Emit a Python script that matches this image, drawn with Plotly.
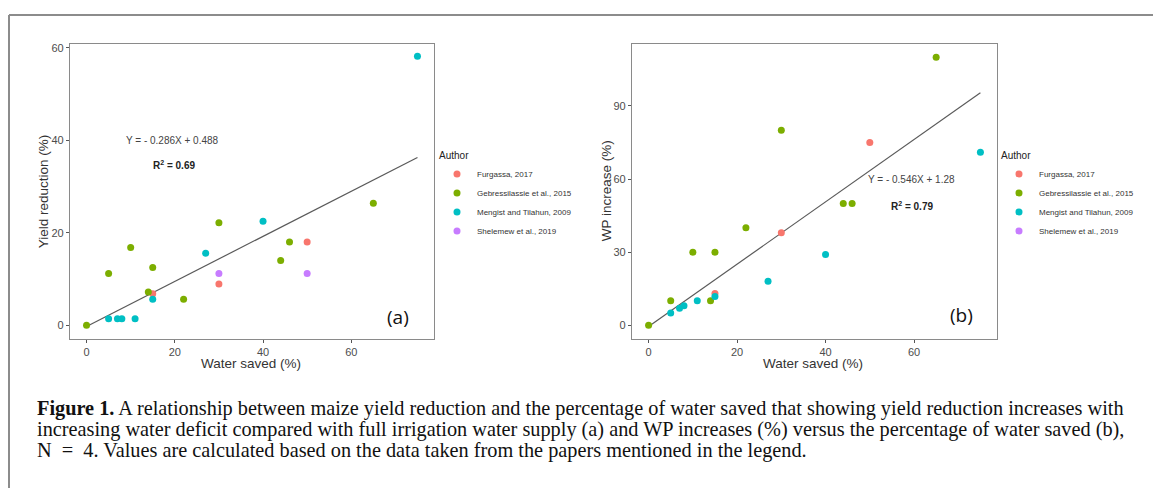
import plotly.graph_objects as go

W, H = 1153, 488

authors = ["Furgassa, 2017", "Gebressilassie et al., 2015", "Mengist and Tilahun, 2009", "Shelemew et al., 2019"]
colors = ["#F8766D", "#7CAE00", "#00BFC4", "#C77CFF"]

# Panel (a): water saved (%) vs yield reduction (%)
a_furgassa_x = [15, 30, 50]
a_furgassa_y = [6.8, 8.9, 18.0]
a_gebre_x = [0, 5, 10, 14, 15, 22, 30, 44, 46, 65]
a_gebre_y = [0, 11.2, 16.8, 7.2, 12.5, 5.6, 22.2, 14.0, 18.0, 26.4]
a_mengist_x = [5, 7, 8, 11, 15, 27, 40, 75]
a_mengist_y = [1.4, 1.4, 1.4, 1.4, 5.6, 15.6, 22.5, 58.2]
a_shelemew_x = [30, 50]
a_shelemew_y = [11.2, 11.2]

# Panel (b): water saved (%) vs WP increase (%)
b_furgassa_x = [15, 30, 50]
b_furgassa_y = [13.0, 38.0, 75.0]
b_gebre_x = [0, 5, 10, 14, 15, 22, 30, 44, 46, 65]
b_gebre_y = [0, 10, 30, 10, 30, 40, 80, 50, 50, 110]
b_mengist_x = [5, 7, 8, 11, 15, 27, 40, 75]
b_mengist_y = [5.0, 7.0, 8.0, 10.0, 11.8, 18.0, 29.0, 71.0]
b_shelemew_x = []
b_shelemew_y = []

# fitted lines (slope, intercept)
fit_a = (0.488, -0.286)
fit_b = (1.28, -0.546)
fit_x_range = [0, 75]

x_ticks = [0, 20, 40, 60]
a_y_ticks = [0, 20, 40, 60]
b_y_ticks = [0, 30, 60, 90]

eq_a = "Y = - 0.286X + 0.488"
r2_a = "<b>R<sup>2</sup> = 0.69</b>"
eq_b = "Y = - 0.546X + 1.28"
r2_b = "<b>R<sup>2</sup> = 0.79</b>"

caption_lines = [
    "<b>Figure 1.</b> A relationship between maize yield reduction and the percentage of water saved that showing yield reduction increases with",
    "increasing water deficit compared with full irrigation water supply (a) and WP increases (%) versus the percentage of water saved (b),",
    "N  =  4. Values are calculated based on the data taken from the papers mentioned in the legend.",
]

def px(x):
    return x / W

def py(y):
    return 1 - y / H

fig = go.Figure()

panel_a = [(a_furgassa_x, a_furgassa_y), (a_gebre_x, a_gebre_y), (a_mengist_x, a_mengist_y), (a_shelemew_x, a_shelemew_y)]
panel_b = [(b_furgassa_x, b_furgassa_y), (b_gebre_x, b_gebre_y), (b_mengist_x, b_mengist_y), (b_shelemew_x, b_shelemew_y)]

def add_fit(fit, xa, ya):
    s, c = fit
    xs = fit_x_range
    ys = [s * v + c for v in xs]
    fig.add_trace(go.Scatter(x=xs, y=ys, mode="lines", line=dict(color="#5a5a5a", width=1.2),
                             showlegend=False, hoverinfo="skip", xaxis=xa, yaxis=ya))

add_fit(fit_a, "x", "y")
add_fit(fit_b, "x2", "y2")

for i, (name, col) in enumerate(zip(authors, colors)):
    xs, ys = panel_a[i]
    fig.add_trace(go.Scatter(x=xs, y=ys, mode="markers", name=name,
                             marker=dict(color=col, size=7), xaxis="x", yaxis="y",
                             legend="legend"))
for i, (name, col) in enumerate(zip(authors, colors)):
    xs, ys = panel_b[i]
    fig.add_trace(go.Scatter(x=xs if xs else [None], y=ys if ys else [None], mode="markers", name=name,
                             marker=dict(color=col, size=7), xaxis="x2", yaxis="y2",
                             legend="legend2"))

axis_common = dict(showgrid=False, zeroline=False, showline=True, mirror=True,
                   linecolor="#8a8a8a", linewidth=1.2, ticks="outside", ticklen=3,
                   tickcolor="#555555", tickfont=dict(family="Liberation Sans", size=11, color="#4d4d4d"))

legend_common = dict(xanchor="left", yanchor="top",
                     title=dict(text="Author", font=dict(size=10, color="#222")),
                     font=dict(size=8, color="#333"), bgcolor="rgba(0,0,0,0)",
                     itemsizing="trace", tracegroupgap=0)

fig.update_layout(
    width=W, height=H,
    margin=dict(l=0, r=0, t=0, b=0),
    paper_bgcolor="white", plot_bgcolor="white",
    font=dict(family="Liberation Sans"),
    xaxis=dict(domain=[px(70), px(434)], range=[-3.75, 78.75], tickvals=x_ticks, anchor="y", **axis_common),
    yaxis=dict(domain=[py(338), py(42)], range=[-2.9, 60.9], tickvals=a_y_ticks, anchor="x", **axis_common),
    xaxis2=dict(domain=[px(632), px(997)], range=[-3.75, 78.75], tickvals=x_ticks, anchor="y2", **axis_common),
    yaxis2=dict(domain=[py(338), py(42)], range=[-5.5, 115.5], tickvals=b_y_ticks, anchor="x2", **axis_common),
    legend=dict(x=px(437), y=py(145), **legend_common),
    legend2=dict(x=px(999), y=py(145), **legend_common),
)

def note(text, x, y, size, color, family=None, angle=0, xanchor="center"):
    f = dict(size=size, color=color)
    if family:
        f["family"] = family
    return dict(text=text, x=px(x), y=py(y), xref="paper", yref="paper", showarrow=False,
                xanchor=xanchor, yanchor="middle", textangle=angle, font=f)

ann = []
# axis titles
ann.append(note("Water saved (%)", 251, 363, 13.5, "#333"))
ann.append(note("Water saved (%)", 813, 363, 13.5, "#333"))
ann.append(note("Yield reduction (%)", 43, 190, 13.5, "#333", angle=-90))
ann.append(note("WP increase (%)", 606, 190, 13.5, "#333", angle=-90))
# equations
ann.append(note(eq_a, 172, 139, 10, "#444"))
ann.append(note(r2_a, 174, 164, 10, "#222"))
ann.append(note(eq_b, 911, 178, 10, "#444"))
ann.append(note(r2_b, 912, 205, 10, "#222"))
# panel labels
ann.append(note("(a)", 398, 316, 19, "#111", family="Open Sans"))
ann.append(note("(b)", 961, 314, 19, "#111", family="Open Sans"))
# caption
for i, line in enumerate(caption_lines):
    ann.append(note(line, 35, 408 + 21 * i, 20.3, "#111", family="Liberation Serif", xanchor="left"))
fig.update_layout(annotations=ann)

# outer frame
fig.add_shape(type="line", xref="paper", yref="paper", x0=px(9), x1=1, y0=py(13), y1=py(13),
              line=dict(color="#8c8c8c", width=2))
fig.add_shape(type="line", xref="paper", yref="paper", x0=px(9), x1=px(9), y0=py(13), y1=0,
              line=dict(color="#8c8c8c", width=2))

fig.write_html("out.html")
